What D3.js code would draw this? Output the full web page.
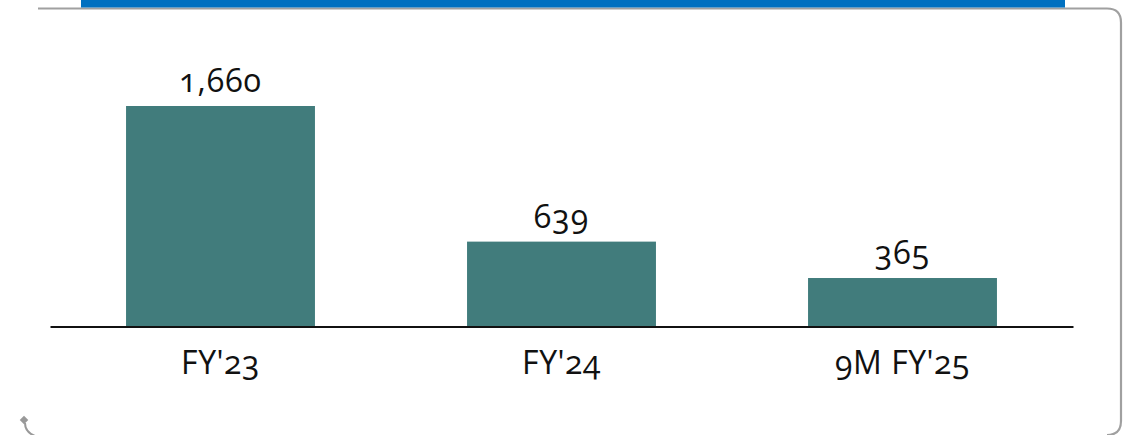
<!DOCTYPE html>
<html lang="en">
<head>
<meta charset="UTF-8">
<title>Bar chart</title>
<script src="https://d3js.org/d3.v7.min.js"></script>
<style>
  body { margin: 0; background: #fff; }
  svg { display: block; }
  text {
    font-family: 'Open Sans', sans-serif;
    font-variant-numeric: oldstyle-nums;
    fill: #111;
  }
</style>
</head>
<body>
<svg width="1132" height="435"></svg>
<script>
  const categories = ["FY'23", "FY'24", "9M FY'25"];
  const values = [1660, 639, 365];

  const svg = d3.select("svg");

  // frame: gray rounded box, mostly cropped
  svg.append("path")
    .attr("d", "M38,8.5 H1107 Q1121,8.5 1121,22.5 V421 Q1121,435 1107,435")
    .attr("fill", "none")
    .attr("stroke", "#a0a0a0")
    .attr("stroke-width", 2.2);

  // blue title banner (cut off)
  svg.append("rect")
    .attr("x", 81).attr("y", 0)
    .attr("width", 984).attr("height", 7.5)
    .attr("fill", "#0070c0");

  // small connector stub bottom-left
  svg.append("path")
    .attr("d", "M25,423 Q25,432 35,436")
    .attr("fill", "none")
    .attr("stroke", "#999")
    .attr("stroke-width", 2);
  svg.append("rect")
    .attr("x", 21).attr("y", 417).attr("width", 6).attr("height", 6)
    .attr("transform", "rotate(45,24,420)")
    .attr("fill", "#999");

  const baseY = 326.5;
  const x = d3.scaleBand()
    .domain(categories)
    .range([50, 1073])
    .paddingInner(0.446)
    .paddingOuter(0.223);

  const y = d3.scaleLinear()
    .domain([0, 1660])
    .range([baseY, 106]);

  svg.selectAll("rect.bar")
    .data(values)
    .join("rect")
    .attr("class", "bar")
    .attr("x", (d, i) => x(categories[i]))
    .attr("width", x.bandwidth())
    .attr("y", d => y(d))
    .attr("height", d => baseY - y(d))
    .attr("fill", "#417c7c");

  svg.selectAll("text.val")
    .data(values)
    .join("text")
    .attr("class", "val")
    .attr("x", (d, i) => x(categories[i]) + x.bandwidth() / 2)
    .attr("y", d => y(d) - 14)
    .attr("text-anchor", "middle")
    .style("font-size", "32px")
    .style("letter-spacing", "1px")
    .text(d => d3.format(",")(d));

  // axis line with category labels
  const axis = svg.append("g")
    .attr("transform", `translate(0,${baseY})`)
    .call(d3.axisBottom(x).tickSize(0).tickPadding(0));
  axis.select(".domain")
    .attr("stroke", "#111")
    .attr("stroke-width", 2);
  axis.selectAll(".tick text")
    .style("font-size", "32px")
    .style("font-family", "'Open Sans', sans-serif")
    .style("letter-spacing", "0.5px")
    .attr("fill", "#111")
    .attr("y", 47)
    .attr("dy", null);
</script>
</body>
</html>
